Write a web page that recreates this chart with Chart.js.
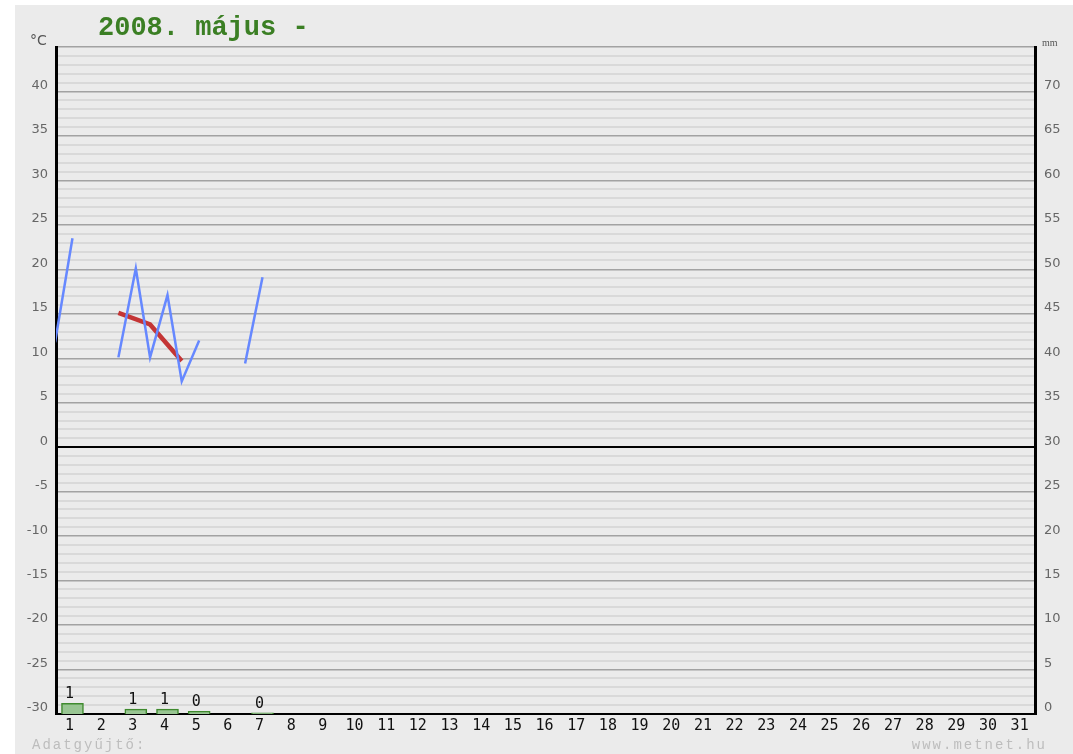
<!DOCTYPE html>
<html>
<head>
<meta charset="utf-8">
<script src="https://cdn.jsdelivr.net/npm/chart.js@4/dist/chart.umd.min.js"></script>
<style>
  body { margin: 0; background: #fff; }
  #wrap { position: absolute; left: 15px; top: 5px; width: 1058px; height: 749px; background: #ebebeb; }
</style>
</head>
<body>
<div id="wrap"><canvas id="chart" width="1058" height="749"></canvas></div>
<script>
// --- DATA ---
const days = Array.from({ length: 31 }, (_, i) => i + 1);

// min / max temperature per day (°C), null where nothing was recorded
const tempDays = [1, 3, 4, 5, 7];
const minTemp = [11.8, 10.1, 10.1, 7.4, 9.4];
const maxTemp = [23.5, 20.1, 17.1, 12.0, 19.1];

// daily mean (°C)
const avgDays = [3, 4, 5];
const avgTemp = [15.1, 13.8, 9.7];

// precipitation (mm)
const rainDays = [1, 3, 4, 5, 7];
const rainMm = [1.2, 0.55, 0.55, 0.3, 0.12];

const yLeftTicks = Array.from({ length: 76 }, (_, i) => i - 30);
const yRightTicks = Array.from({ length: 76 }, (_, i) => i);

// min sits a bit before the day, max on the day itself
const MIN_SHIFT = -0.55;

const minMaxLine = [];
days.forEach(d => {
    const i = tempDays.indexOf(d);
    if (i === -1) {
        minMaxLine.push({ x: d + MIN_SHIFT, y: null });
    } else {
        minMaxLine.push({ x: d + MIN_SHIFT, y: minTemp[i] });
        minMaxLine.push({ x: d, y: maxTemp[i] });
    }
});
const avgLine = avgDays.map((d, i) => ({ x: d + MIN_SHIFT, y: avgTemp[i] }));
const rainBars = rainDays.map((d, i) => ({ x: d, y: rainMm[i] }));

// --- EXTRA TEXT ---
const textPlugin = {
    id: 'texts',
    afterDatasetsDraw(chart) {
        const ctx = chart.ctx;
        ctx.save();
        // labels above the rain bars
        const meta = chart.getDatasetMeta(2);
        ctx.fillStyle = '#111';
        ctx.font = '15px "DejaVu Sans Mono"';
        ctx.textAlign = 'center';
        ctx.textBaseline = 'alphabetic';
        meta.data.forEach((bar, i) => {
            ctx.fillText(String(Math.round(rainMm[i])), bar.x - 3, bar.y - 5);
        });
        ctx.restore();
    },
    afterDraw(chart) {
        const ctx = chart.ctx;
        ctx.save();
        ctx.fillStyle = '#3b7f24';
        ctx.font = 'bold 27px "Liberation Mono"';
        ctx.textAlign = 'left';
        ctx.fillText('2008. május -', 83, 30);

        ctx.fillStyle = '#555';
        ctx.font = '14px "DejaVu Sans"';
        ctx.fillText('°C', 15, 40);
        ctx.font = '10px "Liberation Serif"';
        ctx.fillText('mm', 1027, 41);

        ctx.fillStyle = '#bdbdbd';
        ctx.font = '14px "Liberation Mono"';
        ctx.letterSpacing = '2px';
        ctx.fillText('Adatgyűjtő:', 17, 744);
        ctx.textAlign = 'right';
        ctx.fillText('www.metnet.hu', 1032, 744);
        ctx.restore();
    }
};

const gridColor = c => {
    const v = c.tick.value;
    if (v === 0) return '#000';
    return v % 5 === 0 ? '#a2a2a2' : '#d9d9d9';
};
const gridWidth = c => {
    const v = c.tick.value;
    if (v === 0) return 2;
    return v % 5 === 0 ? 1.5 : 2;
};

new Chart(document.getElementById('chart'), {
    type: 'line',
    data: {
        datasets: [
            {
                label: 'min/max',
                data: minMaxLine,
                borderColor: '#6688ff',
                borderWidth: 2.5,
                pointRadius: 0,
                spanGaps: false,
                tension: 0,
                yAxisID: 'y'
            },
            {
                label: 'avg',
                data: avgLine,
                borderColor: '#c43535',
                borderWidth: 4.5,
                pointRadius: 0,
                tension: 0,
                yAxisID: 'y'
            },
            {
                type: 'bar',
                label: 'rain',
                data: rainBars,
                backgroundColor: '#98c592',
                borderColor: '#3f8a2e',
                borderWidth: 1.5,
                barThickness: 22,
                yAxisID: 'y2'
            }
        ]
    },
    options: {
        responsive: false,
        animation: false,
        devicePixelRatio: 1,
        layout: { padding: { top: 42, left: 0, right: 0, bottom: 0 } },
        plugins: {
            legend: { display: false },
            tooltip: { enabled: false }
        },
        scales: {
            x: {
                type: 'linear',
                bounds: 'data',
                offset: false,
                min: 0.48,
                max: 31.39,
                afterBuildTicks: s => { s.ticks = days.map(d => ({ value: d })); },
                afterFit: s => { s.height = 40; },
                grid: { display: false, drawTicks: false, offset: false },
                border: { color: '#000', width: 2 },
                ticks: {
                    autoSkip: false,
                    maxRotation: 0,
                    padding: 3,
                    labelOffset: -3,
                    color: '#111',
                    font: { family: 'DejaVu Sans Mono', size: 15 },
                    callback: v => String(v)
                }
            },
            y: {
                position: 'left',
                min: -30,
                max: 45,
                afterBuildTicks: s => { s.ticks = yLeftTicks.map(v => ({ value: v })); },
                afterFit: s => { s.width = 41; },
                grid: { color: gridColor, lineWidth: gridWidth, drawTicks: false },
                border: { color: '#000', width: 3 },
                ticks: {
                    autoSkip: false,
                    padding: 8,
                    labelOffset: -6,
                    color: '#666',
                    font: { family: 'DejaVu Sans', size: 13 },
                    callback: v => (v % 5 === 0 && v < 45 ? String(v) : '')
                }
            },
            y2: {
                position: 'right',
                min: 0,
                max: 75,
                afterBuildTicks: s => { s.ticks = yRightTicks.map(v => ({ value: v })); },
                afterFit: s => { s.width = 38; },
                grid: { display: false, drawTicks: false },
                border: { color: '#000', width: 3 },
                ticks: {
                    autoSkip: false,
                    padding: 9,
                    labelOffset: -6,
                    color: '#666',
                    font: { family: 'DejaVu Sans', size: 13 },
                    callback: v => (v % 5 === 0 && v < 75 ? String(v) : '')
                }
            }
        }
    },
    plugins: [textPlugin]
});
</script>
</body>
</html>
